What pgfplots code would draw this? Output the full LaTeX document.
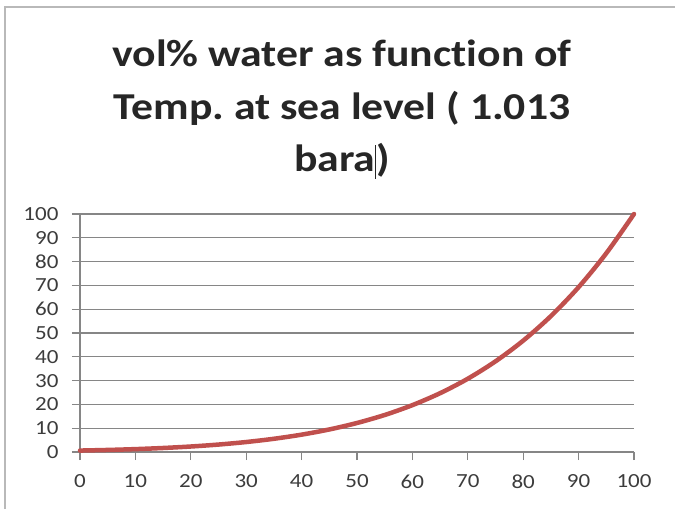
\documentclass[border=0pt]{standalone}
\usepackage{fontspec}
\setmainfont{Carlito}
\newfontfamily\tickfont[FakeStretch=1.15]{Carlito}
\newfontfamily\titlefont[FakeStretch=1.15, Ligatures=NoCommon]{Carlito}
\frenchspacing
\usepackage{pgfplots}
\pgfplotsset{compat=1.18}
\definecolor{exred}{RGB}{192,80,77}
\definecolor{gridc}{RGB}{134,134,134}
\definecolor{framec}{RGB}{185,185,185}
\definecolor{titlec}{RGB}{38,38,38}
\definecolor{tickc}{RGB}{60,60,60}
\pgfplotstableread{
T pct
0 0.603
5 0.861
10 1.212
15 1.683
20 2.309
25 3.128
30 4.191
35 5.555
40 7.288
45 9.469
50 12.19
55 15.55
60 19.69
65 24.71
70 30.79
75 38.09
80 46.79
85 57.11
90 69.26
95 83.51
100 100.0
}\datatable
\begin{document}
\begin{tikzpicture}[x=1pt,y=1pt]
\useasboundingbox (0,0) rectangle (675,509);
\draw[line width=2pt, framec] (5,0) -- (5,502) -- (675,502);
\tikzset{ttl/.style={font=\titlefont\bfseries\fontsize{38}{53}\selectfont, text=titlec, anchor=base}}
\node[ttl] at (342,442) {vol\% water as function of};
\node[ttl] at (342,389) {Temp. at sea level ( 1.013};
\node[ttl] at (342,337) {bara\rule[-7pt]{1pt}{34pt})};
\begin{axis}[
  at={(80pt,57pt)}, anchor=south west,
  scale only axis, width=554pt, height=238pt,
  xmin=0, xmax=100, ymin=0, ymax=100,
  xtick={0,10,...,100}, ytick={0,10,...,100},
  axis lines*=left,
  axis line style={gridc, line width=1.2pt},
  tick align=outside, major tick length=8pt,
  tick style={gridc, line width=1.2pt},
  ymajorgrids, grid style={gridc, line width=1.2pt},
  /pgf/number format/assume math mode=true,
  tick label style={font=\tickfont\fontsize{20}{24}\selectfont, text=tickc},
  yticklabel style={xshift=-10pt},
  xticklabel style={yshift=-11pt},
  clip=false,
]
\addplot[exred, line width=4.5pt, smooth, line cap=round] table[x=T, y=pct] {\datatable};
\end{axis}
\end{tikzpicture}
\end{document}
